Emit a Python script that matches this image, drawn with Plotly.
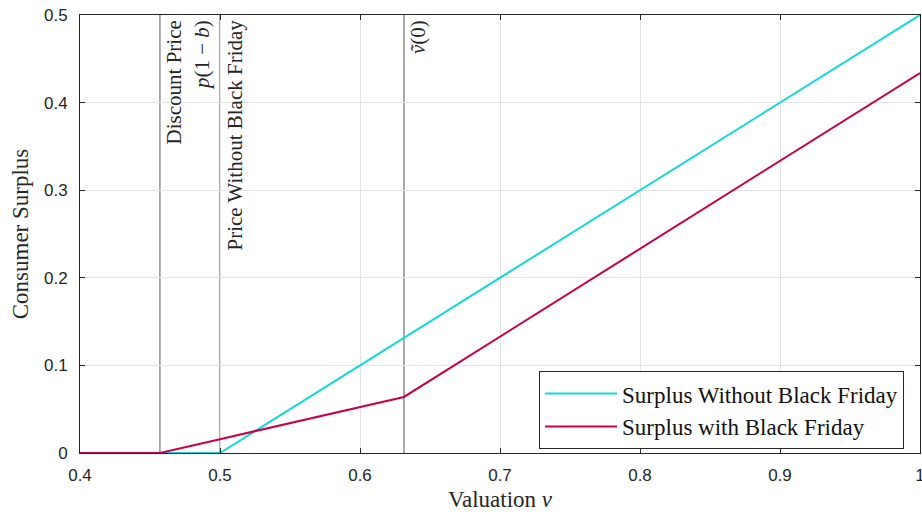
import plotly.graph_objects as go

# Valuation grid (kink points) and consumer surplus for each regime
valuation = [0.4, 0.4571, 0.5, 0.6314, 1.0]
surplus_without_bf = [0.0, 0.0, 0.0, 0.1314, 0.5]
surplus_with_bf = [0.0, 0.0, 0.0158, 0.0640, 0.4338]

# Reference valuations marked with vertical lines
marker_positions = [0.4571, 0.5, 0.6314]
marker_labels = [
    "Discount Price<br><i>p</i>(1 − <i>b</i>)",
    "Price Without Black Friday",
    "<i>ṽ</i>(0)",
]

x_ticks = [0.4, 0.5, 0.6, 0.7, 0.8, 0.9, 1.0]
x_tick_text = ["0.4", "0.5", "0.6", "0.7", "0.8", "0.9", "1"]
y_ticks = [0, 0.1, 0.2, 0.3, 0.4, 0.5]
y_tick_text = ["0", "0.1", "0.2", "0.3", "0.4", "0.5"]

serif = "Liberation Serif"
sans = "Liberation Sans"
ink = "#262626"

fig = go.Figure()
fig.add_trace(go.Scatter(
    x=valuation, y=surplus_without_bf, mode="lines",
    name="Surplus Without Black Friday",
    line=dict(color="#16d8d8", width=2),
))
fig.add_trace(go.Scatter(
    x=valuation, y=surplus_with_bf, mode="lines",
    name="Surplus with Black Friday",
    line=dict(color="#c8004b", width=2),
))

for xv, label in zip(marker_positions, marker_labels):
    fig.add_shape(type="line", xref="x", yref="y", x0=xv, x1=xv, y0=0, y1=0.5,
                  line=dict(color="#555555", width=1), layer="below")
    fig.add_annotation(x=xv, y=1, xref="x", yref="paper", text=label,
                       textangle=-90, showarrow=False, xanchor="left",
                       yanchor="top", align="right", xshift=0, yshift=-3,
                       font=dict(family=serif, size=21, color=ink))

fig.update_layout(
    width=922, height=515,
    margin=dict(l=80, r=2, t=15, b=62, autoexpand=False),
    paper_bgcolor="white", plot_bgcolor="white",
    showlegend=True,
    legend=dict(
        x=0.981, y=0.187, xanchor="right", yanchor="top",
        bordercolor=ink, borderwidth=1, bgcolor="white",
        font=dict(family=serif, size=23, color="#111111"),
        tracegroupgap=0, itemwidth=72,
    ),
    xaxis=dict(
        range=[0.4, 1.0], tickvals=x_ticks, ticktext=x_tick_text,
        automargin=False,
        showgrid=True, gridcolor="#e3e3e3", gridwidth=1,
        showline=True, linecolor=ink, linewidth=1, mirror="ticks",
        ticks="inside", ticklen=5, tickcolor=ink, zeroline=False,
        ticklabelstandoff=7, ticklabeloverflow="allow",
        tickfont=dict(family=sans, size=17, color=ink),
        title=dict(text="Valuation <i>v</i>", standoff=6,
                   font=dict(family=serif, size=23, color=ink)),
    ),
    yaxis=dict(
        range=[0, 0.5], tickvals=y_ticks, ticktext=y_tick_text,
        automargin=False,
        showgrid=True, gridcolor="#e3e3e3", gridwidth=1,
        showline=True, linecolor=ink, linewidth=1, mirror="ticks",
        ticks="inside", ticklen=5, tickcolor=ink, zeroline=False,
        ticklabelstandoff=8,
        tickfont=dict(family=sans, size=17, color=ink),
        title=dict(text="Consumer Surplus", standoff=8,
                   font=dict(family=serif, size=23, color=ink)),
    ),
)

fig.write_html("out.html")
